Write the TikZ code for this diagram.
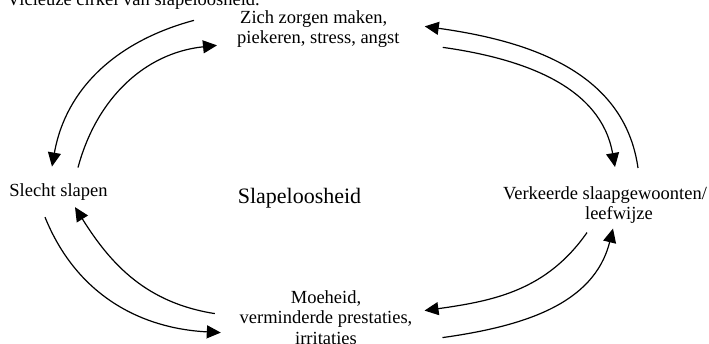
\documentclass[tikz,border=0pt]{standalone}
\usepackage{fontspec}
\setmainfont{Liberation Serif}
\usetikzlibrary{arrows.meta}

\begin{document}
\begin{tikzpicture}[x=1pt,y=1pt,
    txt/.style={inner sep=0pt,align=center,font=\fontsize{18.5}{20.5}\selectfont},
    cyc/.style={-{Triangle[length=14pt,width=13pt]},line width=1.2pt}]
\useasboundingbox (0,0) rectangle (709,344);
\clip (0,0) rectangle (709,344);
% texts
\node [txt,anchor=base west] (title) at (7,338) {Vicieuze cirkel van slapeloosheid.};
\node [txt,align=left,anchor=north west] (worry) at (237,334) {\hspace*{3pt}Zich zorgen maken,\\piekeren, stress, angst};
\node [txt,anchor=base] (sleep) at (58.5,147) {Slecht slapen};
\node [txt,anchor=north] (habits) at (605,157.6) {Verkeerde slaapgewoonten/\\\hspace*{28pt}leefwijze};
\node [txt,anchor=north] (tired) at (326,53.6) {Moeheid,\\verminderde prestaties,\\irritaties};
\node [inner sep=0pt,anchor=base,font=\fontsize{22}{24}\selectfont] (insomnia) at (299.5,140) {Slapeloosheid};
% the cycle
\draw [cyc] ([shift={(-43,8.5)}]worry.west) to[out=195,in=80] ([shift={(-6.5,17.4)}]sleep.north);
\draw [cyc] ([shift={(19.5,16.4)}]sleep.north) to[out=75,in=186] ([shift={(-20,-16.5)}]worry.west);
\draw [cyc] ([shift={(33,18.4)}]habits.north) to[out=98,in=-8] ([shift={(25,2.5)}]worry.east);
\draw [cyc] ([shift={(43,-18.5)}]worry.east) to[out=-8,in=100] ([shift={(10,19.4)}]habits.north);
\draw [cyc] ([shift={(-18,-8.5)}]habits.south) to[out=235,in=8] ([shift={(12,7)}]tired.east);
\draw [cyc] ([shift={(30,-20)}]tired.east) to[out=8,in=-104] ([shift={(8,-4.5)}]habits.south);
\draw [cyc] ([shift={(-13.5,-16)}]sleep.south) to[out=-68,in=177] ([shift={(-18.7,-15)}]tired.west);
\draw [cyc] ([shift={(-24.7,4)}]tired.west) to[out=171,in=-58] ([shift={(16.5,-6)}]sleep.south);
\end{tikzpicture}
\end{document}
